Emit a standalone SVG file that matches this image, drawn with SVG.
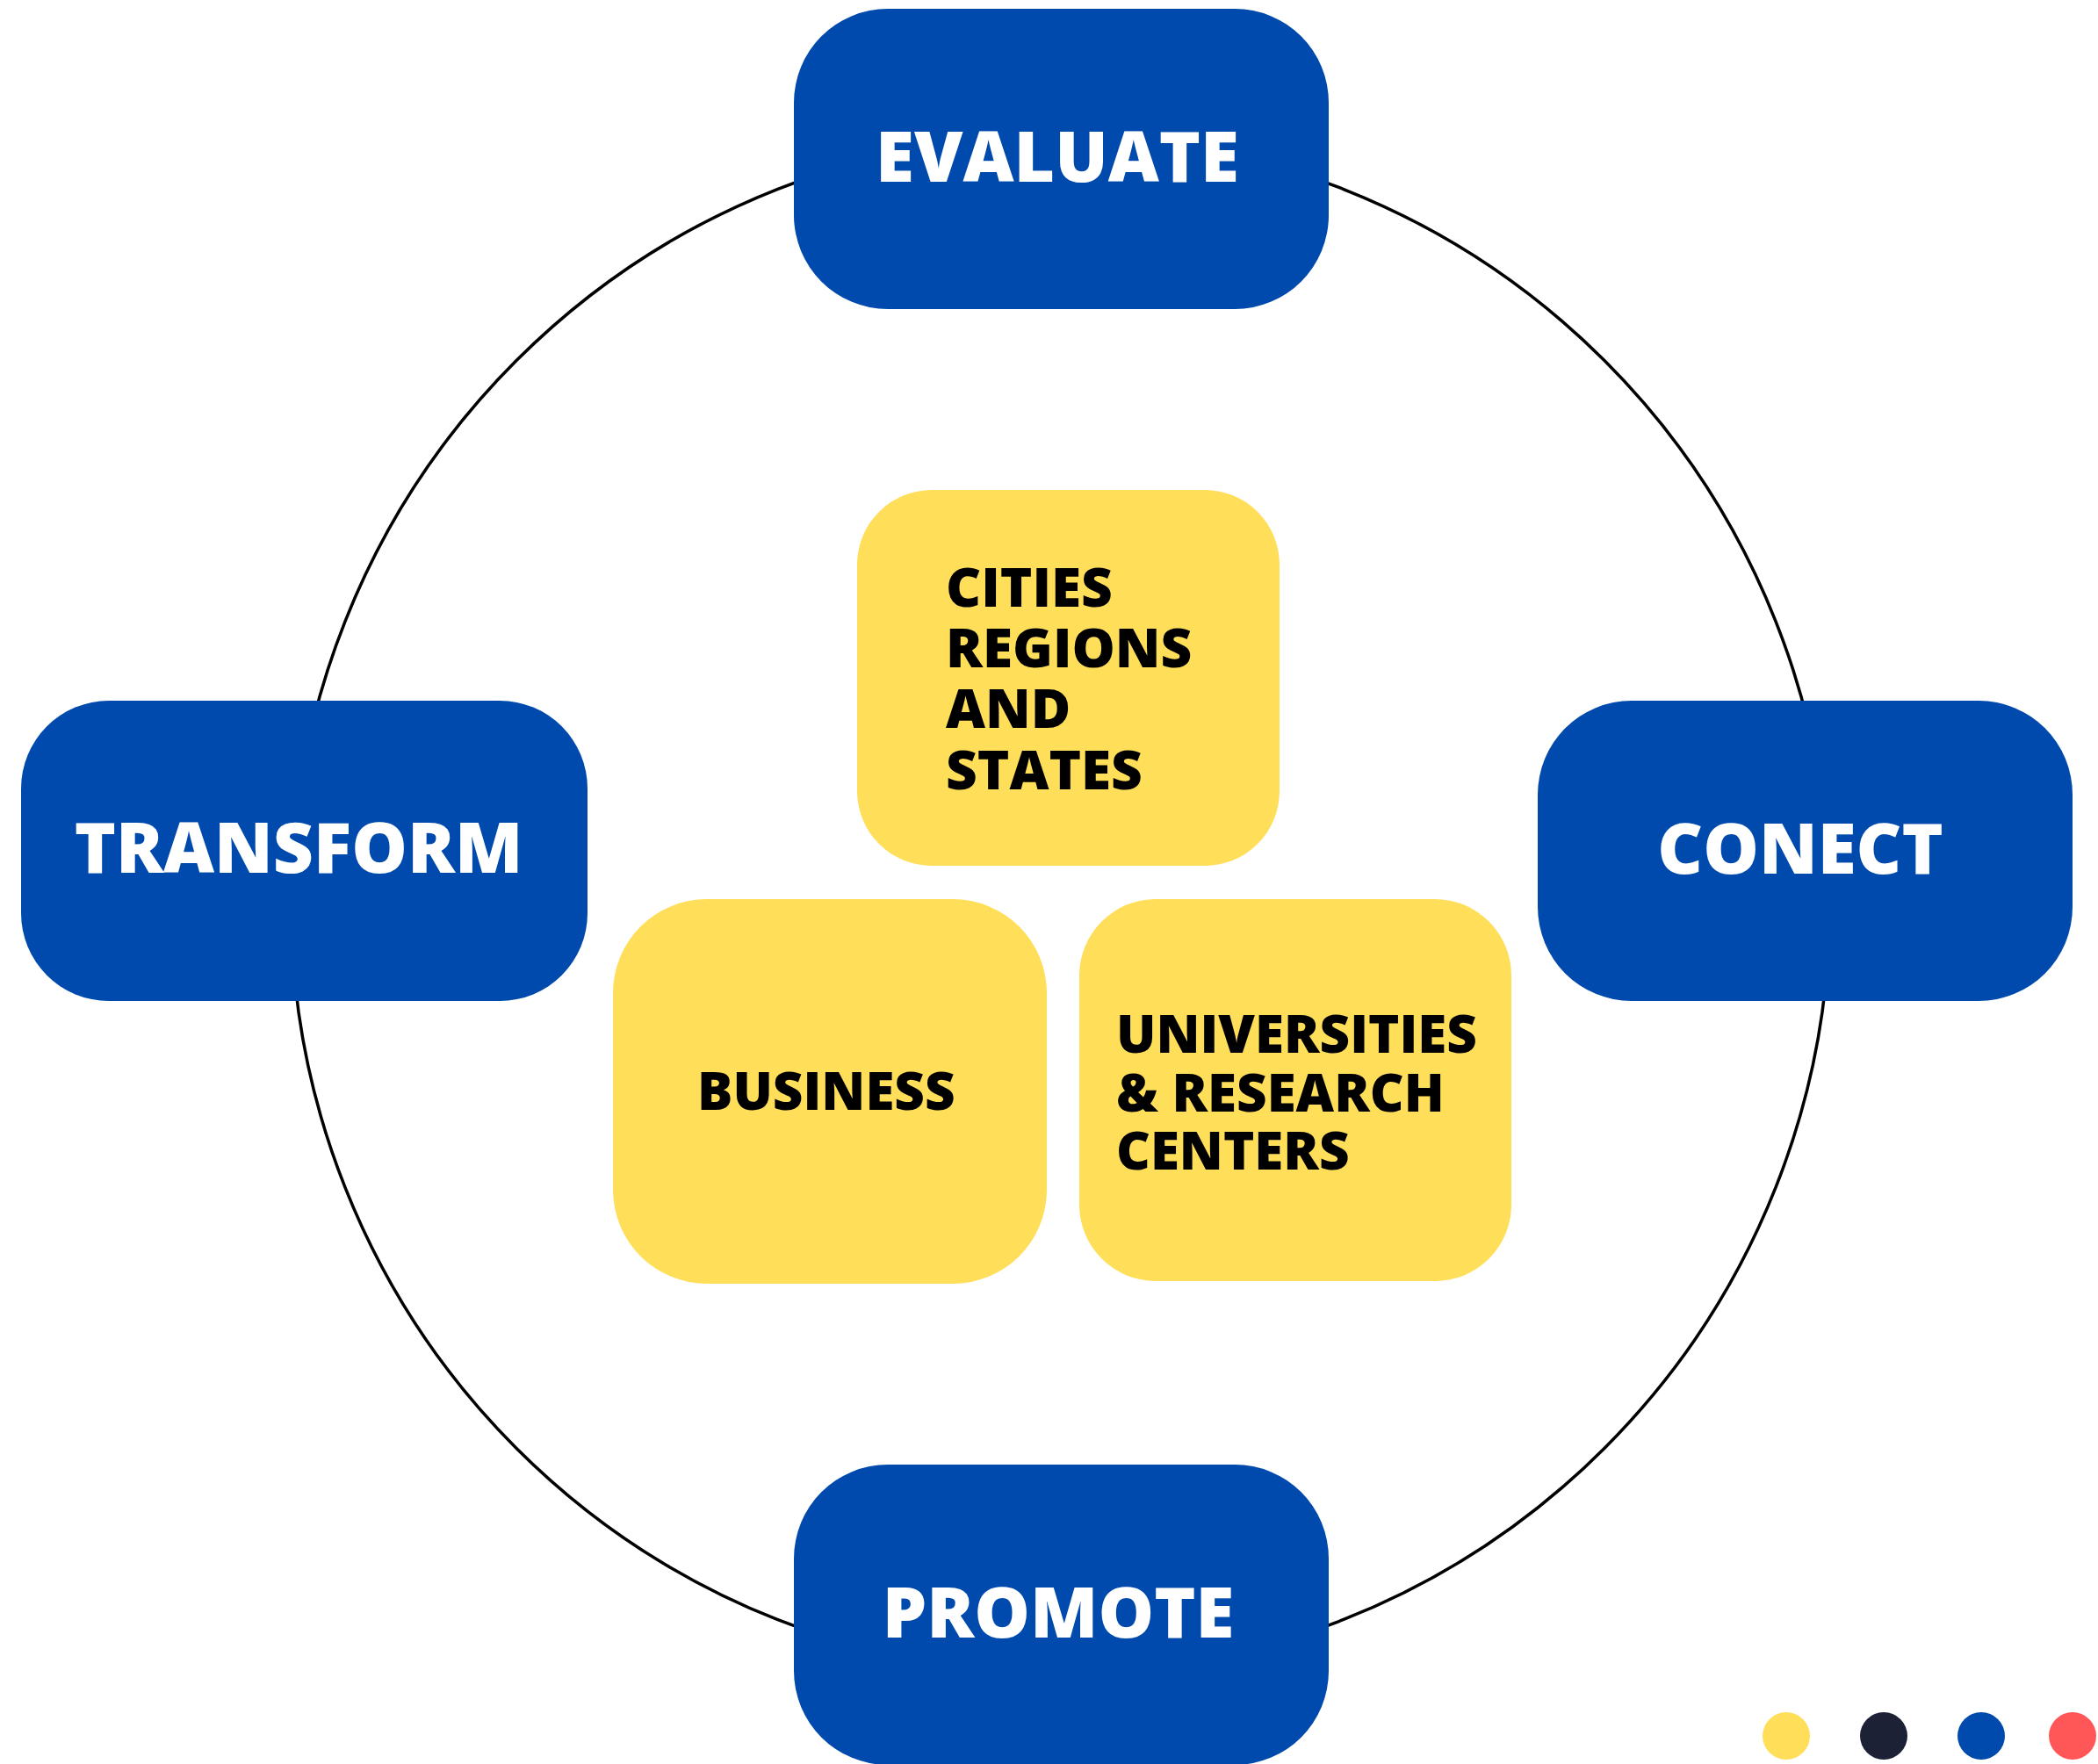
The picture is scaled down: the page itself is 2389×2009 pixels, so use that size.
<svg xmlns="http://www.w3.org/2000/svg" width="2389" height="2009" viewBox="0 0 2389 2009">
<style>
.blue{fill:#004AAD}
.yel{fill:#FFDE59}
.bt{font-family:"Open Sans","Liberation Sans",sans-serif;font-weight:800;font-size:80px;fill:#FFFFFF;text-anchor:middle}
.yt{font-family:"Open Sans","Liberation Sans",sans-serif;font-weight:800;font-size:60px;fill:#000000}
.yt2{font-size:62px}
</style>
<rect width="2389" height="2009" fill="#FFFFFF"/>
<g id="connectors">
<circle cx="1207.5" cy="1030" r="876" fill="none" stroke="#000000" stroke-width="3.5"/>
</g>
<g id="evaluate">
<rect class="blue" x="904" y="10" width="609" height="342" rx="107" ry="107"/>
<text class="bt" x="1204" y="207">EVALUATE</text>
</g>
<g id="transform">
<rect class="blue" x="24" y="798" width="645" height="342" rx="100" ry="100"/>
<text class="bt" x="340" y="994">TRANSFORM</text>
</g>
<g id="conect">
<rect class="blue" x="1751" y="798" width="609" height="342" rx="107" ry="107"/>
<text class="bt" x="2050" y="995">CONECT</text>
</g>
<g id="promote">
<rect class="blue" x="904" y="1668" width="609" height="342" rx="107" ry="107"/>
<text class="bt" x="1205" y="1865">PROMOTE</text>
</g>
<g id="cities">
<rect class="yel" x="976" y="558" width="481" height="428" rx="85" ry="85"/>
<text class="yt yt2" x="1077" y="691">CITIES</text>
<text class="yt yt2" x="1077" y="760">REGIONS</text>
<text class="yt yt2" x="1077" y="829">AND</text>
<text class="yt yt2" x="1077" y="899">STATES</text>
</g>
<g id="business">
<rect class="yel" x="698" y="1024" width="494" height="438" rx="107" ry="107"/>
<text class="yt" x="794" y="1264">BUSINESS</text>
</g>
<g id="universities">
<rect class="yel" x="1229" y="1024" width="492" height="435" rx="87" ry="87"/>
<text class="yt" x="1271" y="1199">UNIVERSITIES</text>
<text class="yt" x="1271" y="1266">&amp; RESEARCH</text>
<text class="yt" x="1271" y="1332">CENTERS</text>
</g>
<g id="legend">
<circle cx="2034" cy="1977" r="27" fill="#FFDE59"/>
<circle cx="2145" cy="1977" r="27" fill="#1D2135"/>
<circle cx="2256" cy="1977" r="27" fill="#004AAD"/>
<circle cx="2360" cy="1977" r="27" fill="#FF5757"/>
</g>
</svg>
